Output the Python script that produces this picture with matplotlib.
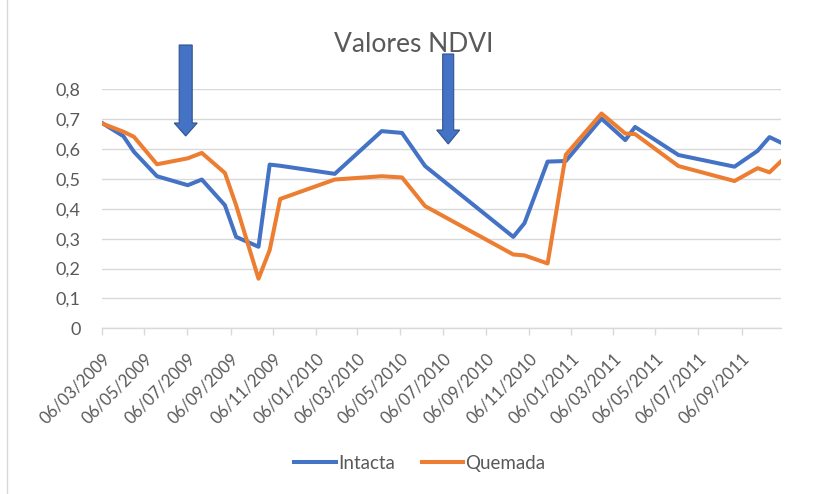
import matplotlib
matplotlib.use("Agg")
import matplotlib.pyplot as plt
import matplotlib.dates as mdates
from matplotlib.patches import Polygon
from matplotlib.lines import Line2D
import numpy as np
import datetime as dt

plt.rcParams['font.family'] = ['Lato', 'DejaVu Sans']

dates = ["2009-03-06", "2009-04-06", "2009-04-21", "2009-05-24", "2009-07-07",
         "2009-07-27", "2009-08-29", "2009-09-14", "2009-10-16", "2009-11-01",
         "2009-11-16", "2010-02-02", "2010-04-10", "2010-05-09", "2010-06-11",
         "2010-10-15", "2010-10-31", "2010-12-03", "2010-12-29", "2011-02-18",
         "2011-03-24", "2011-04-07", "2011-06-08", "2011-08-27", "2011-09-29",
         "2011-10-16", "2011-11-01"]
intacta = [0.688, 0.643, 0.591, 0.509, 0.479, 0.498, 0.412, 0.306, 0.273, 0.548,
           0.544, 0.517, 0.660, 0.654, 0.543, 0.306, 0.352, 0.558, 0.560, 0.702,
           0.630, 0.674, 0.580, 0.541, 0.594, 0.640, 0.622]
quemada = [0.686, 0.658, 0.641, 0.549, 0.569, 0.587, 0.520, 0.412, 0.166, 0.262,
           0.433, 0.498, 0.509, 0.505, 0.409, 0.247, 0.244, 0.217, 0.581, 0.719,
           0.652, 0.650, 0.543, 0.493, 0.536, 0.522, 0.558]
tick_dates = ["2009-03-06", "2009-05-06", "2009-07-06", "2009-09-06", "2009-11-06",
              "2010-01-06", "2010-03-06", "2010-05-06", "2010-07-06", "2010-09-06",
              "2010-11-06", "2011-01-06", "2011-03-06", "2011-05-06", "2011-07-06",
              "2011-09-06"]
y_ticks = [0, 0.1, 0.2, 0.3, 0.4, 0.5, 0.6, 0.7, 0.8]
y_labels = ["0", "0,1", "0,2", "0,3", "0,4", "0,5", "0,6", "0,7", "0,8"]
arrow_dates = ["2009-07-04", "2010-07-14"]

d = [dt.datetime.strptime(s, "%Y-%m-%d") for s in dates]
td = [dt.datetime.strptime(s, "%Y-%m-%d") for s in tick_dates]

W, H = 815, 494
fig = plt.figure(figsize=(W / 100, H / 100), dpi=100)
ax = fig.add_axes([101.7 / W, 1 - 328.3 / H, (780.7 - 101.7) / W, (328.3 - 89.3) / H])

blue = "#4472C4"
orange = "#ED7D31"
grid = "#D9D9D9"
txt = "#595959"

ax.plot(d, intacta, color=blue, lw=2.9, solid_joinstyle='round', zorder=3)
ax.plot(d, quemada, color=orange, lw=2.9, solid_joinstyle='round', zorder=4)

ax.set_xlim(d[0], d[-1])
ax.set_ylim(0, 0.8)
ax.set_yticks(y_ticks)
ax.set_yticklabels(y_labels)
ax.set_xticks(td)
ax.xaxis.set_major_formatter(mdates.DateFormatter("%d/%m/%Y"))
for s in ["top", "right", "left"]:
    ax.spines[s].set_visible(False)
ax.spines["bottom"].set_color(grid)
ax.spines["bottom"].set_linewidth(1)
ax.grid(axis='y', color=grid, lw=1)
ax.set_axisbelow(True)
ax.tick_params(axis='y', length=0, pad=15, labelsize=13, labelcolor=txt)
ax.tick_params(axis='x', length=5, color=grid, width=1, labelsize=12, labelcolor=txt, pad=11)
for lab in ax.get_xticklabels():
    lab.set_rotation(45)
    lab.set_ha('right')
    lab.set_va('top')
    lab.set_rotation_mode('anchor')

fig.text(413.5 / W, 1 - 44 / H, "Valores NDVI", ha='center', va='center',
         fontsize=19, color=txt)

# arrows (annotation shapes)
def arrow(xc, ytop, yhead, ytip, shaft_w, head_w):
    pts = [(xc - shaft_w / 2, ytop), (xc + shaft_w / 2, ytop), (xc + shaft_w / 2, yhead),
           (xc + head_w / 2, yhead), (xc, ytip), (xc - head_w / 2, yhead),
           (xc - shaft_w / 2, yhead)]
    pts = [(x / W, 1 - y / H) for x, y in pts]
    fig.add_artist(Polygon(pts, closed=True, facecolor=blue, edgecolor="#2F528F",
                           lw=0.8, transform=fig.transFigure, zorder=10))

xa = [101.7 + (mdates.date2num(dt.datetime.strptime(a, "%Y-%m-%d")) - mdates.date2num(d[0]))
      * (780.7 - 101.7) / (mdates.date2num(d[-1]) - mdates.date2num(d[0])) for a in arrow_dates]
arrow(xa[0], 45, 123, 136, 13, 23)
arrow(xa[1], 54, 130, 144, 11, 23)

handles = [Line2D([], [], color=blue, lw=2.9), Line2D([], [], color=orange, lw=2.9)]
fig.legend(handles, ["Intacta", "Quemada"], loc='center', bbox_to_anchor=(420 / W, 1 - 463 / H),
           ncol=2, frameon=False, fontsize=13.5, labelcolor=txt, handlelength=2.2,
           handletextpad=0.15, columnspacing=1.4)

fig.add_artist(Line2D([7 / W, 7 / W], [0, 1], color=grid, lw=1, transform=fig.transFigure))

fig.savefig("out.png", dpi=100)
